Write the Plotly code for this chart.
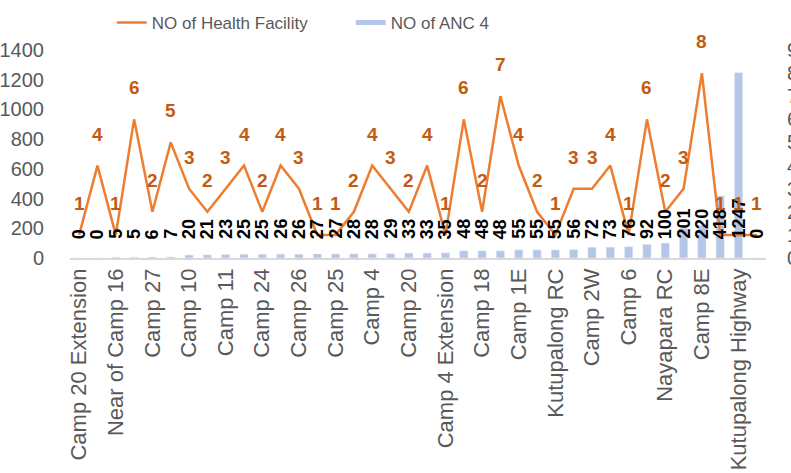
import plotly.graph_objects as go

# ---- data ----
categories = [
    "Camp 20 Extension", "Camp 21", "Near of Camp 16", "Camp 22", "Camp 27", "Camp 23",
    "Camp 10", "Camp 9", "Camp 11", "Camp 12", "Camp 24", "Camp 13", "Camp 26", "Camp 14",
    "Camp 25", "Camp 15", "Camp 4", "Camp 16", "Camp 20", "Camp 17", "Camp 4 Extension",
    "Camp 19", "Camp 18", "Camp 3", "Camp 1E", "Camp 5", "Kutupalong RC", "Camp 7",
    "Camp 2W", "Camp 8W", "Camp 6", "Camp 1W", "Nayapara RC", "Camp 2E", "Camp 8E",
    "Choukhali", "Kutupalong Highway", "Shamlapur",
]
anc4 = [0, 0, 5, 5, 6, 7, 20, 21, 23, 25, 25, 26, 26, 27, 27, 28, 28, 29, 33, 33,
        35, 48, 48, 48, 55, 55, 55, 56, 72, 73, 76, 92, 100, 201, 220, 418, 1247, 0]
health_facility = [1, 4, 1, 6, 2, 5, 3, 2, 3, 4, 2, 4, 3, 1, 1, 2, 4, 3, 2, 4,
                   1, 6, 2, 7, 4, 2, 1, 3, 3, 4, 1, 6, 2, 3, 8, 1, 1, 1]
shown_labels = categories[::2]
y_ticks = [0, 200, 400, 600, 800, 1000, 1200, 1400]

ORANGE = "#ED7D31"
ORANGE_TXT = "#C55A11"
BLUE = "#B4C7E7"
GRAY = "#595959"

fig = go.Figure()
fig.add_trace(go.Bar(
    x=categories, y=anc4, marker_color=BLUE, name="NO of ANC 4",
    showlegend=False, yaxis="y",
))
fig.add_trace(go.Scatter(
    x=categories, y=health_facility, mode="lines", name="NO of Health Facility",
    line=dict(color=ORANGE, width=2.5), yaxis="y2",
))
# legend entry for bars drawn as a line sample (as in the original)
fig.add_trace(go.Scatter(
    x=[None], y=[None], mode="lines", name="NO of ANC 4",
    line=dict(color=BLUE, width=5), yaxis="y",
))

annotations = []
for c, v in zip(categories, anc4):
    annotations.append(dict(
        x=c, y=0, xref="x", yref="y", text=f"<b>{v}</b>", showarrow=False,
        textangle=-90, yanchor="bottom", yshift=17,
        font=dict(family="Liberation Sans, Arial", size=18, color="black"),
    ))
for c, v in zip(categories, health_facility):
    annotations.append(dict(
        x=c, y=v, xref="x", yref="y2", text=f"<b>{v}</b>", showarrow=False,
        yanchor="bottom", yshift=19,
        font=dict(family="Liberation Sans, Arial", size=19, color=ORANGE_TXT),
    ))

fig.update_layout(
    width=791, height=473,
    margin=dict(l=70, r=25, t=50, b=215, autoexpand=False),
    paper_bgcolor="white", plot_bgcolor="white",
    bargap=0.55,
    font=dict(family="Liberation Sans, Arial", color=GRAY),
    legend=dict(
        orientation="h", x=0.06, xanchor="left", y=1.13, yanchor="middle",
        font=dict(size=17, color=GRAY), traceorder="normal",
        entrywidth=194, entrywidthmode="pixels",
        bgcolor="rgba(0,0,0,0)",
    ),
    xaxis=dict(
        type="category", tickmode="array", tickvals=shown_labels, ticktext=shown_labels,
        tickangle=-90, tickfont=dict(size=22, color=GRAY),
        showline=True, linecolor="#D9D9D9", linewidth=1.5,
        showgrid=False, ticks="", automargin=False,
        range=[-0.5, len(categories) - 0.5],
    ),
    yaxis=dict(
        range=[0, 1400], tickvals=y_ticks, tickfont=dict(size=20, color=GRAY),
        showgrid=False, zeroline=False, ticks="", automargin=False,
        ticklabelstandoff=25,
    ),
    yaxis2=dict(
        range=[0, 9], dtick=1, overlaying="y", side="right",
        tickfont=dict(size=20, color=GRAY), showgrid=False, zeroline=False,
        ticks="", automargin=False, ticklabelstandoff=20,
    ),
    annotations=annotations,
)

fig.write_html("out.html", config={"displayModeBar": False},
               post_script="document.body.style.margin='0px';")
